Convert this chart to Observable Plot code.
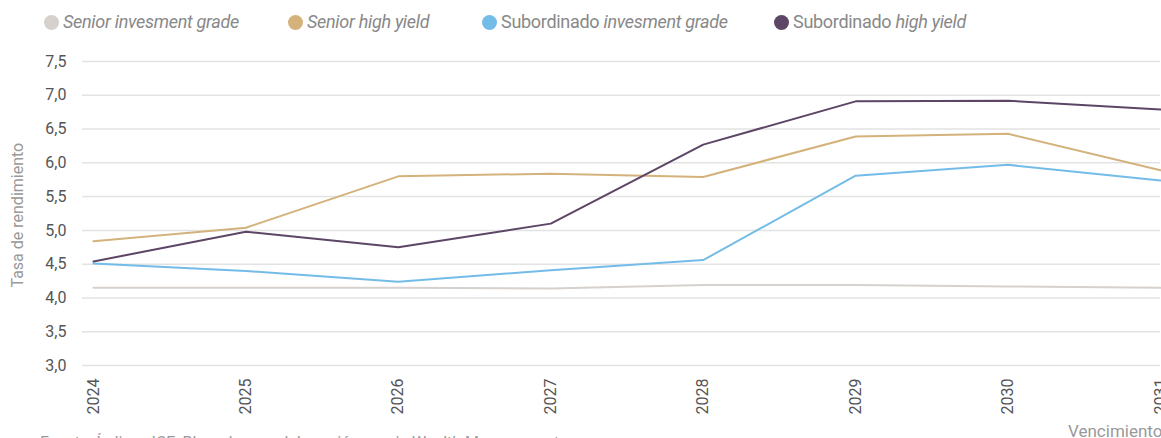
<!DOCTYPE html>
<html><head><meta charset="utf-8">
<script src="https://cdn.jsdelivr.net/npm/d3@7"></script>
<script src="https://cdn.jsdelivr.net/npm/@observablehq/plot@0.6"></script>
<style>
body{margin:0;background:#fff;font-family:Roboto,"Noto Sans",sans-serif;overflow:hidden;width:1161px;height:438px;position:relative}
#legend{height:40px;position:relative;font-size:18px;color:#888;letter-spacing:-0.3px}
#legend .it{position:absolute;top:11px;display:flex;align-items:center;white-space:pre}
#legend .dot{width:15px;height:15px;border-radius:50%;margin-right:4px;margin-top:1px}
#legend i{font-style:italic}
#chart svg{overflow:visible}
#xl{position:absolute;left:1068px;top:421px;font-size:17px;color:#999;white-space:nowrap}
#src{position:absolute;left:40px;top:433px;font-size:16px;color:#999;white-space:nowrap}
</style></head><body>
<div id="legend"></div>
<div id="chart"></div>
<div id="xl">Vencimiento</div>
<div id="src">Fuente: Índices ICE, Bloomberg y elaboración propia Wealth Management</div>
<script>
const years = [2024, 2025, 2026, 2027, 2028, 2029, 2030, 2031];
const seriesNames = ["Senior invesment grade", "Senior high yield", "Subordinado invesment grade", "Subordinado high yield"];
const seniorIG = [4.15, 4.15, 4.15, 4.14, 4.19, 4.19, 4.17, 4.15];
const seniorHY = [4.84, 5.04, 5.80, 5.84, 5.79, 6.39, 6.43, 5.89];
const subIG = [4.51, 4.40, 4.24, 4.41, 4.56, 5.81, 5.97, 5.74];
const subHY = [4.54, 4.98, 4.75, 5.10, 6.27, 6.91, 6.92, 6.79];
const colors = ["#d6d1cc", "#d4b27c", "#74bce8", "#5d4566"];
const yTicks = [3.0, 3.5, 4.0, 4.5, 5.0, 5.5, 6.0, 6.5, 7.0, 7.5];

const legendHtml = [
  '<i>Senior invesment grade</i>',
  '<i>Senior high yield</i>',
  '<span>Subordinado </span><i>invesment grade</i>',
  '<span>Subordinado </span><i>high yield</i>'
];
const legendLeft = [44, 288, 482, 774];
document.getElementById("legend").innerHTML = legendHtml.map((h, i) =>
  `<span class="it" style="left:${legendLeft[i]}px"><span class="dot" style="background:${colors[i]}"></span><span>${h}</span></span>`).join("");

const allSeries = [seniorIG, seniorHY, subIG, subHY];
const data = [];
allSeries.forEach((vals, si) => vals.forEach((v, i) => data.push({year: years[i], value: v, series: seriesNames[si]})));

const fmt = d => d.toFixed(1).replace(".", ",");

const chart = Plot.plot({
  width: 1161,
  height: 398,
  marginLeft: 82,
  marginRight: 1,
  marginTop: 21,
  marginBottom: 73,
  style: {fontFamily: "Roboto, sans-serif", fontSize: "16px", color: "#555", background: "transparent"},
  x: {domain: [2023.928, 2031], ticks: years, tickFormat: d => String(d), tickRotate: -90, tickSize: 0, tickPadding: 13, label: null},
  y: {domain: [3.0, 7.5], ticks: yTicks, tickFormat: fmt, tickSize: 0, tickPadding: 16, label: null},
  color: {domain: seriesNames, range: colors},
  marks: [
    Plot.ruleY(yTicks, {stroke: "#e3e3e3", strokeWidth: 1.5}),
    Plot.line(data, {x: "year", y: "value", z: "series", stroke: "series", strokeWidth: 2, curve: "linear"}),
    Plot.axisY({ticks: yTicks, tickFormat: fmt, tickSize: 0, tickPadding: 16, label: null, fill: "#555"}),
    Plot.axisX({ticks: years, tickFormat: d => String(d), tickRotate: -90, tickSize: 0, tickPadding: 13, label: null, fill: "#555"}),
    Plot.text(["Tasa de rendimiento"], {frameAnchor: "left", dx: -65, dy: 74, rotate: -90, fill: "#999", fontSize: 16, letterSpacing: "0.4px"})
  ]
});
document.getElementById("chart").appendChild(chart);
</script>
</body></html>
